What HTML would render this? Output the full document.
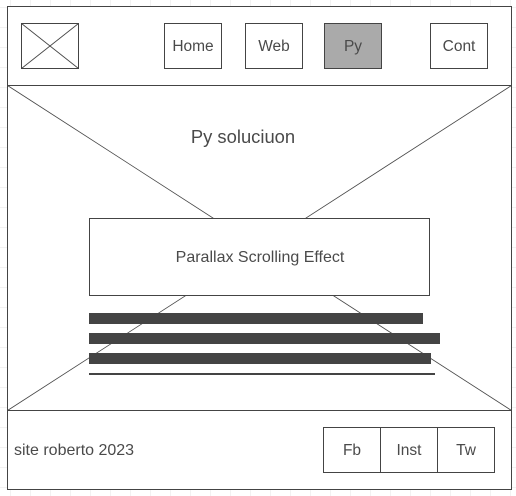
<!DOCTYPE html>
<html><head><style>
html,body{margin:0;padding:0;background:#fff}
svg{display:block}
text{font-family:"Liberation Sans",sans-serif;fill:#4a4a4a}
</style></head><body>
<svg width="516" height="496" viewBox="0 0 516 496" xmlns="http://www.w3.org/2000/svg">
<defs>
<pattern id="g" x="10" y="7" width="20" height="20" patternUnits="userSpaceOnUse">
<path d="M0 0H20M0 0V20" stroke="#e6e6e6" stroke-width="1" fill="none"/>
</pattern>
</defs>
<rect width="516" height="496" fill="url(#g)"/>
<rect x="7.5" y="6.5" width="504" height="483" fill="#fff" stroke="#444"/>
<line x1="7" y1="85.5" x2="512" y2="85.5" stroke="#444"/>
<line x1="7" y1="410.5" x2="512" y2="410.5" stroke="#444"/>
<line x1="7.5" y1="85.5" x2="511.5" y2="410.5" stroke="#444" stroke-width="0.8"/>
<line x1="511.5" y1="85.5" x2="7.5" y2="410.5" stroke="#444" stroke-width="0.8"/>
<rect x="21.5" y="23.5" width="57" height="45" fill="#fff" stroke="#444"/>
<line x1="21.5" y1="23.5" x2="78.5" y2="68.5" stroke="#444" stroke-width="0.8"/>
<line x1="78.5" y1="23.5" x2="21.5" y2="68.5" stroke="#444" stroke-width="0.8"/>
<rect x="164.5" y="23.5" width="57" height="45" fill="#fff" stroke="#444"/>
<text x="193" y="51" font-size="15.5" text-anchor="middle">Home</text>
<rect x="245.5" y="23.5" width="57" height="45" fill="#fff" stroke="#444"/>
<text x="274" y="51" font-size="15.5" text-anchor="middle">Web</text>
<rect x="324.5" y="23.5" width="57" height="45" fill="#aaa" stroke="#444"/>
<text x="353" y="51" font-size="15.5" text-anchor="middle">Py</text>
<rect x="430.5" y="23.5" width="57" height="45" fill="#fff" stroke="#444"/>
<text x="459" y="51" font-size="15.5" text-anchor="middle">Cont</text>
<text x="243" y="143" font-size="18.4" text-anchor="middle">Py soluciuon</text>
<rect x="89.5" y="218.5" width="340" height="77" fill="#fff" stroke="#444"/>
<text x="260" y="262" font-size="16" text-anchor="middle">Parallax Scrolling Effect</text>
<rect x="89" y="313" width="334" height="11" fill="#444"/>
<rect x="89" y="333" width="351" height="11" fill="#444"/>
<rect x="89" y="353" width="342" height="11" fill="#444"/>
<rect x="89" y="373" width="346" height="2" fill="#444"/>
<text x="14" y="455" font-size="16">site roberto 2023</text>
<rect x="323.5" y="427.5" width="171" height="45" fill="#fff" stroke="#444"/>
<line x1="380.5" y1="427.5" x2="380.5" y2="472.5" stroke="#444"/>
<line x1="437.5" y1="427.5" x2="437.5" y2="472.5" stroke="#444"/>
<text x="352" y="455" font-size="15.5" text-anchor="middle">Fb</text>
<text x="409" y="455" font-size="15.5" text-anchor="middle">Inst</text>
<text x="466" y="455" font-size="15.5" text-anchor="middle">Tw</text>
</svg>
</body></html>
